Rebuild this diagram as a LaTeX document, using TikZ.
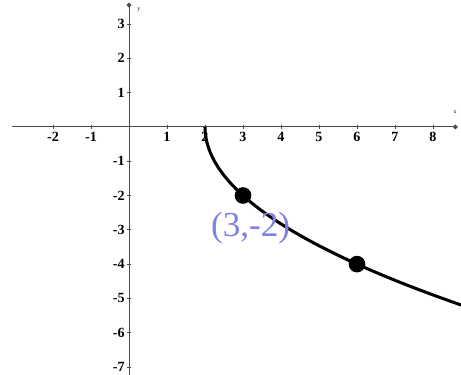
\documentclass[tikz,border=0pt]{standalone}
\usepackage{fontspec}
\setmainfont{Liberation Serif}
\usetikzlibrary{arrows.meta, positioning, calc}
\definecolor{penblue}{RGB}{128,128,226}
\tikzset{
  ax line/.style={draw=black!70, line width=0.8pt, -{Circle[length=4pt]}},
  ax tick/.style={draw=black!70, line width=0.8pt},
  tick lbl/.style={font=\fontsize{12}{12}\selectfont\bfseries, inner sep=1pt},
  ax name/.style={font=\fontsize{5}{5}\selectfont, inner sep=0pt},
  crv/.style={draw=black, line width=2.6pt},
  pt dot/.style={circle, fill=black, minimum size=0.5cm, inner sep=0pt},
  hand lbl/.style={text=penblue, font=\fontsize{30}{30}\selectfont, inner sep=0pt}
}
\begin{document}
\begin{tikzpicture}[x=1.14cm, y=1.029cm]
\useasboundingbox (-3.395,-7.23) rectangle (8.737,3.70);

% ====== AXES ======
\draw[ax line] (-3.08,0) -- (8.65,0);
\draw[ax line] (0,-7.3) -- (0,3.62);
\node[ax name] (xname) at (8.58,0.42) {x};
\node[ax name] (yname) at (0.26,3.42) {y};

% -- ticks and labels --
\foreach \i in {-2,-1,1,2,3,4,5,6,7,8} {
  \draw[ax tick] (\i,0.07) -- (\i,-0.07);
  \node[tick lbl, anchor=north] (xl\i) at (\i,-0.12) {\i};
}
\foreach \j in {3,2,1,-1,-2,-3,-4,-5,-6,-7} {
  \draw[ax tick] (0.06,\j) -- (-0.06,\j);
  \node[tick lbl, anchor=east] (yl\j) at (-0.08,\j) {\j};
}

% ====== CURVE y = -2 sqrt(x-2) ======
\draw[crv, domain=0:2.6, samples=80, variable=\t] plot ({2+\t*\t}, {-2*\t});

% -- marked points --
\node[pt dot] (p1) at (3,-2) {};
\node[pt dot] (p2) at (6,-4) {};

% -- handwritten note --
\node[hand lbl] (note) at (3.2,-2.95) {(3,-2)};

\end{tikzpicture}
\end{document}
